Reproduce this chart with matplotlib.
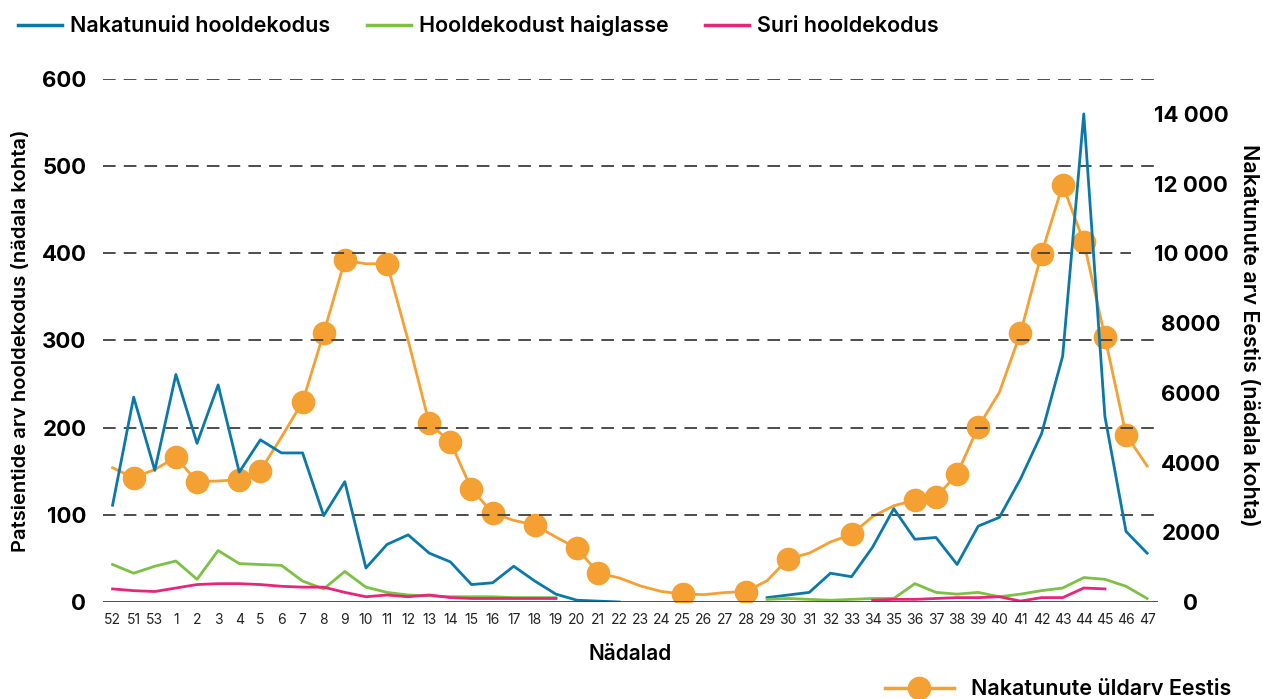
import matplotlib
matplotlib.use('Agg')
import matplotlib.pyplot as plt
from matplotlib.lines import Line2D
import numpy as np

plt.rcParams['font.family'] = ['Inter', 'DejaVu Sans']

# nädalad (52, 51, 53 eelmisest aastast, siis 1..47)
weeks = ['52', '51', '53'] + [str(i) for i in range(1, 48)]

nan = np.nan
# Nakatunuid hooldekodus
infected_homes = [111, 235, 151, 261, 182, 249, 149, 186, 171, 171,
                  99, 138, 39, 66, 77, 56, 46, 20, 22, 41,
                  24, 9, 2, 1, 0, nan, nan, nan, nan, nan,
                  nan, 5, 8, 11, 33, 29, 63, 107, 72, 74,
                  43, 87, 97, 141, 193, 282, 560, 213, 81, 56]
# Hooldekodust haiglasse
to_hospital = [43, 33, 41, 47, 26, 59, 44, 43, 42, 24,
               15, 35, 17, 11, 8, 7, 6, 6, 6, 5,
               5, 5, nan, nan, nan, nan, nan, nan, nan, nan,
               nan, 3, 4, 3, 2, 3, 4, 4, 21, 11,
               9, 11, 6, 9, 13, 16, 28, 26, 18, 4]
# Suri hooldekodus
died = [15, 13, 12, 16, 20, 21, 21, 20, 18, 17,
        17, 11, 6, 8, 6, 8, 5, 4, 4, 4,
        4, 4, nan, nan, nan, nan, nan, nan, nan, nan,
        nan, nan, nan, nan, nan, nan, 2, 3, 3, 4,
        5, 5, 6, 1, 5, 5, 16, 15, nan, nan]
# Nakatunute üldarv Eestis
total_estonia = [3850, 3560, 3800, 4150, 3450, 3470, 3510, 3770, 4730, 5740,
                 7710, 9800, 9700, 9700, 7500, 5120, 4590, 3240, 2550, 2340,
                 2210, 1860, 1540, 830, 690, 460, 300, 230, 210, 270,
                 300, 610, 1240, 1400, 1720, 1940, 2450, 2760, 2920, 3000,
                 3670, 5020, 6010, 7710, 9990, 11960, 10330, 7600, 4800, 3900]
marker_weeks = ['51', '1', '2', '4', '5', '7', '8', '9', '11', '13', '14', '15',
                '16', '18', '20', '21', '25', '28', '30', '33', '36', '37', '38',
                '39', '41', '42', '43', '44', '45', '46']

blue = '#0B78A9'
green = '#7BC144'
pink = '#E5267C'
orange = '#F5A033'
grey = '#3F3F3F'

x = np.arange(len(weeks))
marker_idx = [weeks.index(w) for w in marker_weeks]

fig = plt.figure(figsize=(12.63, 6.99), dpi=100)
ax = fig.add_axes([0.0816, 0.1388, 0.835, 0.7482])
ax2 = ax.twinx()

ax.plot(x, infected_homes, color=blue, lw=2)
ax.plot(x, to_hospital, color=green, lw=2)
ax.plot(x, died, color=pink, lw=2)
ax2.plot(x, total_estonia, color=orange, lw=2, marker='o', markersize=16,
         markevery=marker_idx)

ax.set_xlim(-0.45, 49.5)
ax.set_ylim(0, 600)
ax2.set_ylim(0, 15000)
ax.set_zorder(ax2.get_zorder() + 1)
ax.patch.set_visible(False)

# katkendlikud abijooned; 400 juures jääb lühemaks, et "10 000" mahuks
for v in range(100, 601, 100):
    ax.axhline(v, xmax=0.975 if v == 400 else 1, color=grey, lw=1.3,
               ls=(0, (7, 4.5)), zorder=0)
ax.axhline(0, color=grey, lw=2, zorder=3)

for a in (ax, ax2):
    for s in a.spines.values():
        s.set_visible(False)
    a.tick_params(length=0)

ax.set_xticks(x)
ax.set_xticklabels(weeks, fontsize=10, color='#222222')
ax.tick_params(axis='x', pad=8)
ax.set_yticks(range(0, 601, 100))
ax.set_yticklabels([str(v) for v in range(0, 601, 100)], fontsize=16,
                   fontweight='bold')
ax.tick_params(axis='y', pad=12)

rticks = list(range(0, 14001, 2000))
rlabels = ['0', '2000', '4000', '6000', '8000', '10 000', '12 000', '14 000']
ax2.set_yticks(rticks)
ax2.set_yticklabels(rlabels, fontsize=16, fontweight='bold', ha='center')
ax2.tick_params(axis='y', pad=24)

ax.set_xlabel('Nädalad', fontsize=15, fontweight='semibold', labelpad=12)
ax.set_ylabel('Patsientide arv hooldekodus (nädala kohta)', fontsize=14.5,
              fontweight='semibold', labelpad=8)
ax2.set_ylabel('Nakatunute arv Eestis (nädala kohta)', fontsize=15.5,
               fontweight='semibold', rotation=270, ha='center', va='center')
ax2.yaxis.set_label_coords(1.0865, 0.51)

top_handles = [Line2D([], [], color=blue, lw=2.5),
               Line2D([], [], color=green, lw=2.5),
               Line2D([], [], color=pink, lw=2.5)]
fig.legend(top_handles, ['Nakatunuid hooldekodus', 'Hooldekodust haiglasse',
                         'Suri hooldekodus'],
           loc='upper left', bbox_to_anchor=(-0.001, 1.006), ncol=3, frameon=False,
           prop={'size': 15.5, 'weight': 'semibold'}, handlelength=2.05,
           handletextpad=0.37, columnspacing=1.7)

fig.legend([Line2D([], [], color=orange, lw=2.5, marker='o', markersize=16)],
           ['Nakatunute üldarv Eestis'], loc='lower right',
           bbox_to_anchor=(0.99, -0.028), frameon=False,
           prop={'size': 15.5, 'weight': 'semibold'}, handlelength=3.2,
           handletextpad=0.8)

fig.savefig('out.png', dpi=100)
